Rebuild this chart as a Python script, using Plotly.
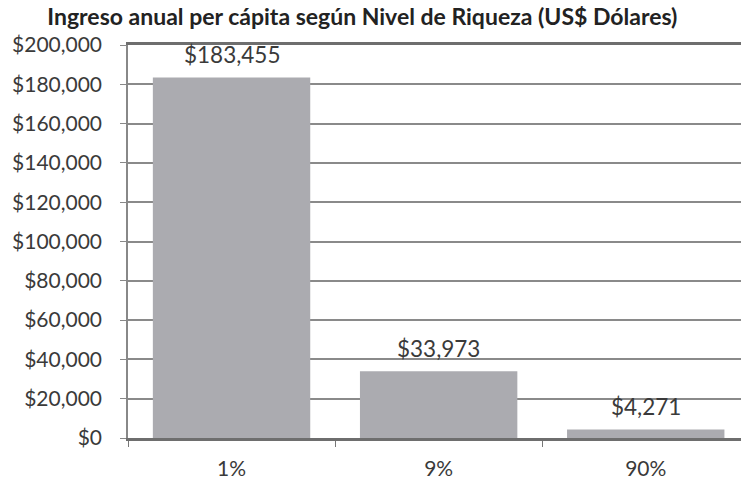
import plotly.graph_objects as go

categories = ["1%", "9%", "90%"]
values = [183455, 33973, 4271]
value_labels = ["$183,455", "$33,973", "$4,271"]
y_tick_vals = [0, 20000, 40000, 60000, 80000, 100000, 120000, 140000, 160000, 180000, 200000]
y_tick_text = ["$0", "$20,000", "$40,000", "$60,000", "$80,000", "$100,000",
               "$120,000", "$140,000", "$160,000", "$180,000", "$200,000"]
title_text = "Ingreso anual per cápita según Nivel de Riqueza (US$ Dólares)"

FONT = "Lato"
TXT = "#3a3a3a"

fig = go.Figure(go.Bar(
    x=categories, y=values,
    marker=dict(color="#ababb0", line=dict(width=0)),
    cliponaxis=False,
))

for cat, val, lab in zip(categories, values, value_labels):
    fig.add_annotation(x=cat, y=val, text=lab, showarrow=False,
                       xanchor="center", yanchor="middle", yshift=23,
                       font=dict(family=FONT, size=22.5, color=TXT))

fig.update_layout(
    width=741, height=483,
    margin=dict(l=128, r=0, t=45, b=45, autoexpand=False),
    paper_bgcolor="white", plot_bgcolor="white",
    bargap=0.24,
    showlegend=False,
    title=dict(text="<b>" + title_text + "</b>", x=0.489, xanchor="center",
               y=0.965, yanchor="middle",
               font=dict(family=FONT, size=23, color="#222")),
    xaxis=dict(range=[-0.5, 2.46], tickson="boundaries", ticks="outside",
               ticklen=6, tickcolor="#777", showline=True, linecolor="#6e6e6e",
               linewidth=2.5, mirror=True, showgrid=False, automargin=False,
               ticklabelstandoff=10,
               tickfont=dict(family=FONT, size=21, color=TXT)),
    yaxis=dict(range=[0, 200000], tickvals=y_tick_vals, ticktext=y_tick_text,
               ticks="outside", ticklen=6, tickcolor="#888",
               showline=True, linecolor="#888", linewidth=1.5,
               showgrid=True, gridcolor="#8a8a8a", gridwidth=1.5,
               zeroline=False, ticklabelstandoff=14, automargin=False,
               tickfont=dict(family=FONT, size=21, color=TXT)),
)

fig.write_html("out.html", config={"displayModeBar": False},
               post_script="document.body.style.margin='0';document.body.style.overflow='hidden';")
